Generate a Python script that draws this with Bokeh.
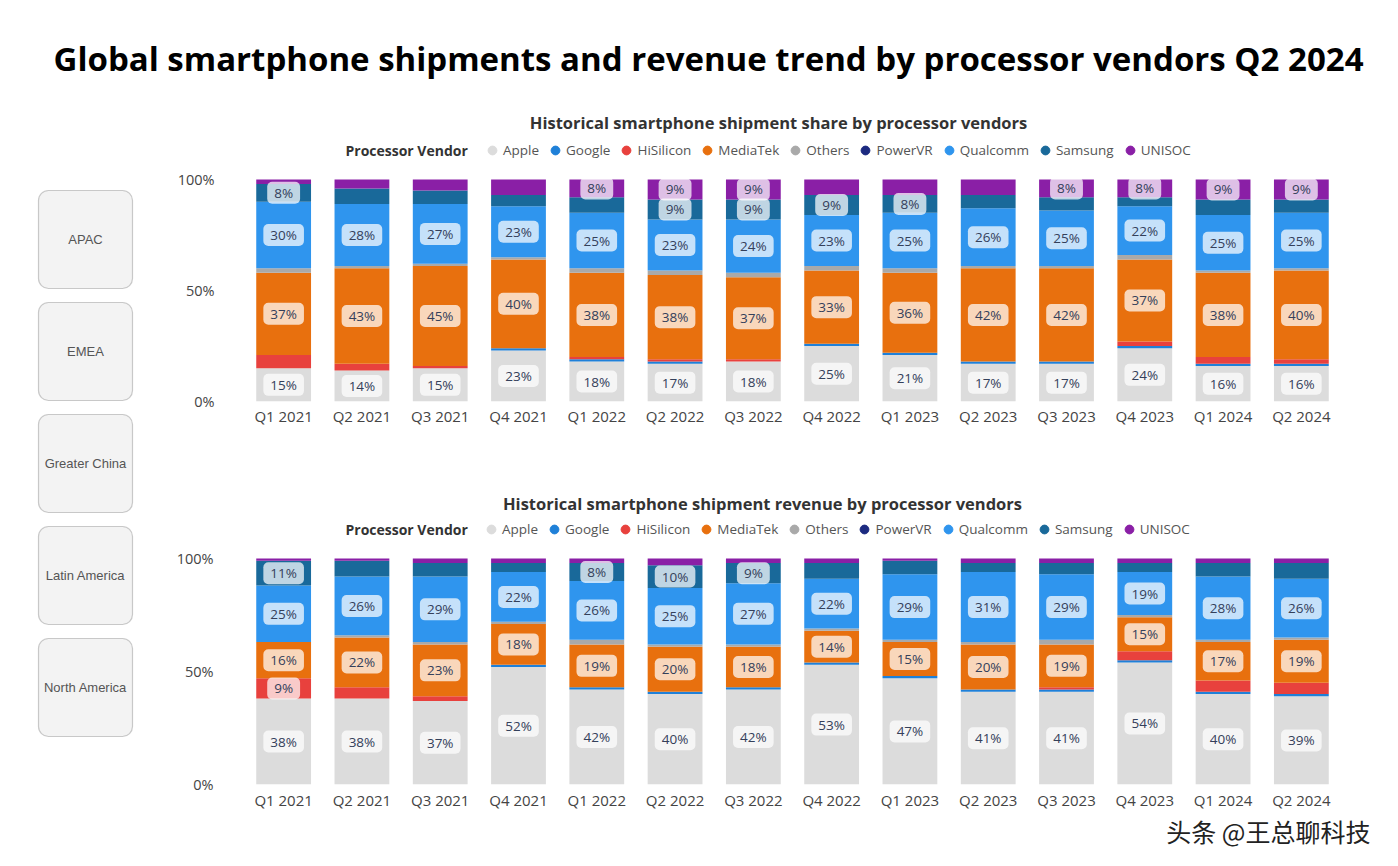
from bokeh.plotting import figure
from bokeh.models import (ColumnDataSource, FactorRange, Range1d, FixedTicker,
                          PrintfTickFormatter, Legend, LegendItem, Label, BoxAnnotation, Title)
from bokeh.layouts import column, row
from bokeh.embed import file_html
from bokeh.resources import INLINE
from bokeh.core.properties import value

# ---------------- data ----------------
quarters = ["Q1 2021", "Q2 2021", "Q3 2021", "Q4 2021", "Q1 2022", "Q2 2022", "Q3 2022",
            "Q4 2022", "Q1 2023", "Q2 2023", "Q3 2023", "Q4 2023", "Q1 2024", "Q2 2024"]
vendors = ["Apple", "Google", "HiSilicon", "MediaTek", "Others", "PowerVR",
           "Qualcomm", "Samsung", "UNISOC"]
vendor_colors = ["#dcdcdc", "#1f80d8", "#e8413d", "#e8700e", "#a9a9a9", "#1c2a80",
                 "#2f95ee", "#19699a", "#8a1fa6"]

# Shipment share (%)
ship_apple     = [15, 14, 15, 23, 18, 17, 18, 25, 21, 17, 17, 24, 16, 16]
ship_google    = [0, 0, 0, 1, 1, 1, 0, 1, 1, 1, 1, 1, 1, 1]
ship_hisilicon = [6, 3, 1, 0, 1, 1, 1, 0, 0, 0, 0, 2, 3, 2]
ship_mediatek  = [37, 43, 45, 40, 38, 38, 37, 33, 36, 42, 42, 37, 38, 40]
ship_others    = [2, 1, 1, 1, 2, 2, 2, 2, 2, 1, 1, 2, 1, 1]
ship_powervr   = [0, 0, 0, 0, 0, 0, 0, 0, 0, 0, 0, 0, 0, 0]
ship_qualcomm  = [30, 28, 27, 23, 25, 23, 24, 23, 25, 26, 25, 22, 25, 25]
ship_samsung   = [8, 7, 6, 5, 7, 9, 9, 9, 8, 6, 6, 4, 7, 6]
ship_unisoc    = [2, 4, 5, 7, 8, 9, 9, 7, 7, 7, 8, 8, 9, 9]

# Revenue share (%)
rev_apple     = [38, 38, 37, 52, 42, 40, 42, 53, 47, 41, 41, 54, 40, 39]
rev_google    = [0, 0, 0, 1, 1, 1, 1, 1, 1, 1, 1, 1, 1, 1]
rev_hisilicon = [9, 5, 2, 0, 0, 0, 0, 0, 0, 0, 1, 4, 5, 5]
rev_mediatek  = [16, 22, 23, 18, 19, 20, 18, 14, 15, 20, 19, 15, 17, 19]
rev_others    = [0, 1, 1, 1, 2, 1, 1, 1, 1, 1, 2, 1, 1, 1]
rev_powervr   = [0, 0, 0, 0, 0, 0, 0, 0, 0, 0, 0, 0, 0, 0]
rev_qualcomm  = [25, 26, 29, 22, 26, 25, 27, 22, 29, 31, 29, 19, 28, 26]
rev_samsung   = [11, 7, 6, 4, 8, 10, 9, 7, 6, 4, 5, 4, 6, 7]
rev_unisoc    = [1, 1, 2, 2, 2, 3, 2, 2, 1, 2, 2, 2, 2, 2]

regions = ["APAC", "EMEA", "Greater China", "Latin America", "North America"]

main_title = "Global smartphone shipments and revenue trend by processor vendors Q2 2024"
top_title = "Historical smartphone shipment share by processor vendors"
bottom_title = "Historical smartphone shipment revenue by processor vendors"
legend_title = "Processor Vendor"
watermark = "头条 @王总聊科技"

FONT = "Open Sans"
LABEL_MIN = 8


def make_chart(series, subtitle, width, height, borders, y_top, y_std, x_std,
               sub_pos, pv_pos, leg_pos, extra=None):
    bl, br, bt, bb = borders
    data = {"q": quarters}
    for name, vals in zip(vendors, series):
        data[name] = vals
    src = ColumnDataSource(data)

    p = figure(x_range=FactorRange(*quarters, range_padding=0), y_range=Range1d(0, y_top),
               width=width, height=height, output_backend="svg", toolbar_location=None,
               min_border_left=bl, min_border_right=br, min_border_top=bt,
               min_border_bottom=bb)
    p.outline_line_color = None
    p.background_fill_color = "white"
    p.border_fill_color = "white"
    p.grid.visible = False

    p.vbar_stack(vendors, x="q", width=0.7, color=vendor_colors, source=src,
                 line_color=None)

    # value labels
    lx, ly, lt = [], [], []
    for i, q in enumerate(quarters):
        base = 0
        for vals in series:
            v = vals[i]
            if v >= LABEL_MIN:
                lx.append(q)
                ly.append(base + v / 2)
                lt.append(f"{v}%")
            base += v
    lsrc = ColumnDataSource(dict(x=lx, y=ly, t=lt))
    p.text(x="x", y="y", text="t", source=lsrc, text_align="center",
           text_baseline="middle", text_font=value(FONT), text_font_size="13.5px",
           text_color="#34405a", background_fill_color="white",
           background_fill_alpha=0.72, border_radius=5, padding=(7, 2))

    # axes
    p.yaxis.ticker = FixedTicker(ticks=[0, 50, 100])
    p.yaxis.formatter = PrintfTickFormatter(format="%d%%")
    for ax in (p.xaxis, p.yaxis):
        ax.axis_line_color = None
        ax.major_tick_line_color = None
        ax.minor_tick_line_color = None
        ax.major_tick_out = 0
        ax.major_tick_in = 0
        ax.minor_tick_out = 0
        ax.major_label_text_font = FONT
        ax.major_label_text_color = "#444444"
    p.yaxis.major_label_text_font_size = "14.5px"
    p.xaxis.major_label_text_font_size = "15px"
    p.yaxis.major_label_standoff = y_std
    p.xaxis.major_label_standoff = x_std

    # subtitle + legend header (inside the extended frame, above the 100% line)
    p.add_layout(Label(x=sub_pos[0], y=sub_pos[1], x_units="screen", y_units="screen",
                       text=subtitle, text_align="center", text_baseline="middle",
                       text_font=FONT, text_font_size="16.5px", text_font_style="bold",
                       text_color="#333333"))
    p.add_layout(Label(x=pv_pos[0], y=pv_pos[1], x_units="screen", y_units="screen",
                       text=legend_title, text_align="left", text_baseline="middle",
                       text_font=FONT, text_font_size="14px", text_font_style="bold",
                       text_color="#333333"))

    # legend markers: one hidden-below-axis point per vendor so the legend draws a dot
    items = []
    for name, col in zip(vendors, vendor_colors):
        r = p.scatter(x=[quarters[0]], y=[-50], marker="circle", size=9,
                      fill_color=col, line_color=col)
        items.append(LegendItem(label=name, renderers=[r]))
    leg = Legend(items=items, orientation="horizontal", location=leg_pos,
                 border_line_color=None, background_fill_alpha=0, padding=0, margin=0,
                 spacing=5, glyph_width=22, glyph_height=22, label_standoff=0,
                 label_height=20, label_text_font=FONT, label_text_font_size="13.5px",
                 label_text_color="#555555")
    p.add_layout(leg)

    if extra:
        extra(p)
    return p


# ---------------- title ----------------
W = 1398
title_fig = figure(width=W, height=100, x_range=Range1d(0, W), y_range=Range1d(0, 100),
                   output_backend="svg", toolbar_location=None, min_border=0,
                   x_axis_location=None, y_axis_location=None)
title_fig.outline_line_color = None
title_fig.grid.visible = False
title_fig.add_layout(Label(x=708, y=42, text=main_title, text_align="center",
                           text_baseline="middle", text_font=FONT, text_font_size="33px",
                           text_font_style="bold", text_color="#000000"))

# ---------------- left region boxes ----------------
LH = 766
left_fig = figure(width=158, height=LH, x_range=Range1d(0, 158), y_range=Range1d(0, LH),
                  output_backend="svg", toolbar_location=None, min_border=0,
                  x_axis_location=None, y_axis_location=None)
left_fig.outline_line_color = None
left_fig.grid.visible = False
for i, reg in enumerate(regions):
    top = LH - (90 + i * 112)
    bot = top - 98
    left_fig.add_layout(BoxAnnotation(left=38, right=132, top=top, bottom=bot,
                                      fill_color="#f3f3f3", fill_alpha=1,
                                      line_color="#555555", line_width=1.2,
                                      border_radius=10))
    left_fig.add_layout(Label(x=85, y=(top + bot) / 2, text=reg, text_align="center",
                              text_baseline="middle", text_font="Liberation Sans",
                              text_font_size="13px", text_color="#555555"))

# ---------------- charts ----------------
ship_series = [ship_apple, ship_google, ship_hisilicon, ship_mediatek, ship_others,
               ship_powervr, ship_qualcomm, ship_samsung, ship_unisoc]
rev_series = [rev_apple, rev_google, rev_hisilicon, rev_mediatek, rev_others,
              rev_powervr, rev_qualcomm, rev_samsung, rev_unisoc]


def add_watermark(p):
    p.add_layout(Title(text=watermark, align="right", offset=-30, standoff=0,
                       vertical_align="top", text_line_height=0.7,
                       text_font="Noto Sans CJK SC", text_font_size="25px",
                       text_font_style="normal", text_color="#222222"), "below")


# top chart: 0% at y=401, 100% at y=179, header area from y=100
top_fig = make_chart(ship_series, top_title, 1240, 340, (86, 52, 0, 39),
                     (401 - 100) / 2.22, 30, 4, (534, 279), (101, 251), (237, 240))
# bottom chart: 0% at y=784, 100% at y=558, header area from y=440
bottom_fig = make_chart(rev_series, bottom_title, 1240, 426, (78, 58, 0, 82),
                        (784 - 440) / 2.26, 31, 5, (518, 281), (101, 255), (236, 244),
                        extra=add_watermark)

layout = column(title_fig, row(left_fig, column(top_fig, bottom_fig)))

open("out.html", "w").write(file_html(layout, INLINE))
